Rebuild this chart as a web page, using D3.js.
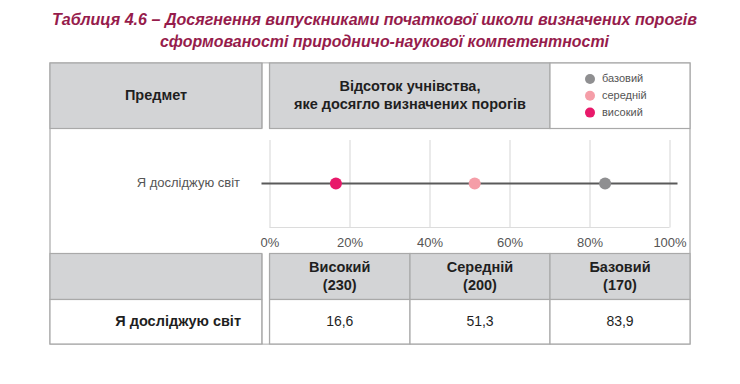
<!DOCTYPE html>
<html><head><meta charset="utf-8">
<script src="https://cdn.jsdelivr.net/npm/d3@7"></script>
<style>body{margin:0;background:#fff}svg{display:block}</style>
</head><body>
<script>
const titleLines = ["Таблиця 4.6 – Досягнення випускниками початкової школи визначених порогів",
                    "сформованості природничо-наукової компетентності"];
const subject = "Я досліджую світ";
const levelKeys = ["високий","середній","базовий"];
const levelHeads = ["Високий","Середній","Базовий"];
const thresholds = [230, 200, 170];
const values = [16.6, 51.3, 83.9];
const valueLabels = ["16,6","51,3","83,9"];
const legendOrder = ["базовий","середній","високий"];
const ticks = [0,20,40,60,80,100];

const colors = {"високий":"#e8196a","середній":"#f59ea8","базовий":"#8f8f91"};
const W=740,H=384;
const font="'Liberation Sans', Arial, sans-serif";
const gray="#d3d4d6", border="#a9a9a9", dark="#1f1f1f", mid="#555";

const svg=d3.select("body").append("svg").attr("width",W).attr("height",H);

// Title
const tl=[{x:52,w:645,y:25},{x:160,w:449,y:47}];
titleLines.forEach((t,i)=>{
  svg.append("text").attr("x",tl[i].x).attr("y",tl[i].y).text(t)
    .attr("font-family",font).attr("font-size",17).attr("font-weight","bold").attr("font-style","italic")
    .attr("fill","#961c4c").attr("textLength",tl[i].w).attr("lengthAdjust","spacingAndGlyphs");
});

// Layout constants
const L=50,R=690,T=63,B=344;
const c1=262,c2=269.5,c3=410,c4=550;
const hB=128.5, bT=253.5, bM=299.5;

// Outer frame
svg.append("rect").attr("x",L).attr("y",T).attr("width",R-L).attr("height",B-T)
  .attr("fill","#fff").attr("stroke",border).attr("stroke-width",1.2);

function cell(x,y,w,h,fill){
  svg.append("rect").attr("x",x).attr("y",y).attr("width",w).attr("height",h)
    .attr("fill",fill).attr("stroke",border).attr("stroke-width",1.2);
}
// top header
cell(L,T,c1-L,hB-T,gray);
cell(c2,T,c4-c2,hB-T,gray);
cell(c4,T,R-c4,hB-T,"#fff");
// bottom table
cell(L,bT,c1-L,bM-bT,gray);
cell(c2,bT,c3-c2,bM-bT,gray);
cell(c3,bT,c4-c3,bM-bT,gray);
cell(c4,bT,R-c4,bM-bT,gray);
cell(L,bM,c1-L,B-bM,"#fff");
cell(c2,bM,c3-c2,B-bM,"#fff");
cell(c3,bM,c4-c3,B-bM,"#fff");
cell(c4,bM,R-c4,B-bM,"#fff");
// white gap between columns
svg.append("rect").attr("x",c1+0.6).attr("y",T+0.6).attr("width",c2-c1-1.2).attr("height",B-T-1.2).attr("fill","#fff");
[c1,c2].forEach(cx=>{
  svg.append("line").attr("x1",cx).attr("x2",cx).attr("y1",T).attr("y2",hB).attr("stroke",border).attr("stroke-width",1.2);
  svg.append("line").attr("x1",cx).attr("x2",cx).attr("y1",bT).attr("y2",B).attr("stroke",border).attr("stroke-width",1.2);
});

function txt(x,y,s,opt){
  const t=svg.append("text").attr("x",x).attr("y",y).text(s).attr("font-family",font)
    .attr("font-size",opt.size||13).attr("fill",opt.fill||dark)
    .attr("text-anchor",opt.anchor||"middle").attr("dominant-baseline","middle");
  if(opt.bold) t.attr("font-weight","bold");
  return t;
}
txt((L+c1)/2,96.5,"Предмет",{bold:true,size:14.5});
txt(410,87.5,"Відсоток учнівства,",{bold:true,size:14.5});
txt(410,105.5,"яке досягло визначених порогів",{bold:true,size:14.5});

// legend
legendOrder.forEach((k,i)=>{
  const y=79+i*16.8;
  svg.append("circle").attr("cx",590).attr("cy",y).attr("r",5).attr("fill",colors[k]);
  txt(602,y,k,{anchor:"start",size:11,fill:mid});
});

// chart
const x=d3.scaleLinear().domain([0,100]).range([269.5,669.5]);
const pTop=140, pBot=227.5, rowY=183.5;
const axis=d3.axisBottom(x).tickValues(ticks).tickFormat(d=>d+"%").tickSize(-(pBot-pTop)).tickPadding(10);
const g=svg.append("g").attr("transform",`translate(0,${pBot})`).call(axis);
g.select(".domain").remove();
g.selectAll(".tick line").attr("stroke","#dcdcdc").attr("stroke-width",1.2);
g.selectAll(".tick text").attr("font-family",font).attr("font-size",13).attr("fill",mid);
svg.append("line").attr("x1",x(0)).attr("x2",x(100)).attr("y1",pBot).attr("y2",pBot).attr("stroke","#dcdcdc").attr("stroke-width",1.2);

txt(240,rowY,subject,{anchor:"end",size:13,fill:mid});
svg.append("line").attr("x1",x(-2)).attr("x2",x(102)).attr("y1",rowY).attr("y2",rowY)
  .attr("stroke","#5a5a5a").attr("stroke-width",2);
svg.selectAll("circle.dot").data(levelKeys).enter().append("circle").attr("class","dot")
  .attr("cx",(d,i)=>x(values[i])).attr("cy",rowY).attr("r",6).attr("fill",d=>colors[d]);

// bottom table text
const colX=[(c2+c3)/2,(c3+c4)/2,(c4+R)/2];
levelHeads.forEach((h,i)=>{
  txt(colX[i],268.5,h,{bold:true,size:14.5});
  txt(colX[i],286.5,"("+thresholds[i]+")",{bold:true,size:14.5});
  txt(colX[i],322,valueLabels[i],{size:14});
});
txt(241,322,subject,{anchor:"end",bold:true,size:14.5});
</script>
</body></html>
